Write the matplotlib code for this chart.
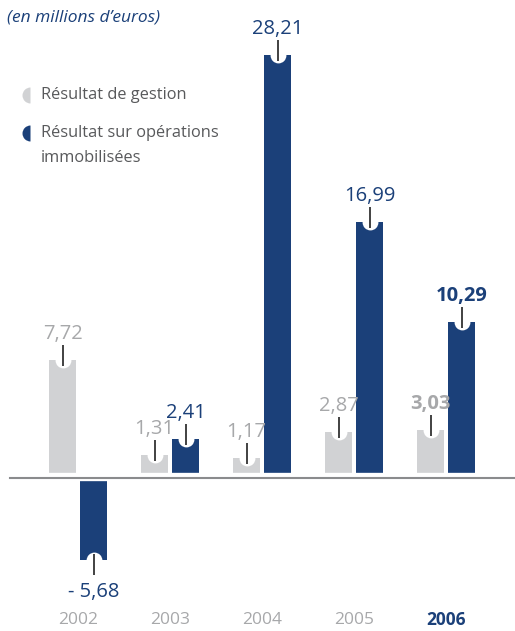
import matplotlib
matplotlib.use("Agg")
import matplotlib.pyplot as plt
import numpy as np

years = ["2002", "2003", "2004", "2005", "2006"]
gestion = [7.72, 1.31, 1.17, 2.87, 3.03]
immob = [-5.68, 2.41, 28.21, 16.99, 10.29]

gray = "#d1d2d4"
gray_txt = "#a7a8aa"
blue = "#1b4079"
dark = "#333333"

plt.rcParams["font.family"] = ["Open Sans", "DejaVu Sans"]

W, H = 515, 631
fig = plt.figure(figsize=(W / 100, H / 100), dpi=100)
ax = fig.add_axes([0, 0, 1, 1])
ax.axis("off")

# pixel geometry: baseline 156 px above the bottom, ~14.9 px per million
ppu = 14.9
y0 = -156 / ppu
y1 = (H - 156) / ppu
ax.set_ylim(y0, y1)
step = 92
ax.set_xlim(-78 / step, (W - 78) / step)
px = 1 / ppu  # one pixel in data units (y)

x = np.arange(len(years))
bw = 27 / step
off = 15.5 / step

ax.bar(x - off, gestion, bw, color=gray, zorder=2)
ax.bar(x + off, immob, bw, color=blue, zorder=2)

# baseline with a white margin around it
ax.axhline(-1.5 * px, color="white", lw=6, zorder=3)
ax.axhline(-2.5 * px, xmin=10 / W, color="#8a8b8d", lw=1.5, zorder=4)

def mark(xc, v, txt, color, bold):
    sign = 1 if v >= 0 else -1
    ax.scatter([xc], [v], s=130, color="white", zorder=5, linewidths=0)
    ax.plot([xc, xc], [v - sign * 6 * px, v + sign * 15 * px],
            color=dark, lw=1.3, zorder=6, solid_capstyle="butt")
    if sign > 0:
        ax.text(xc, v + 21 * px, txt, ha="center", va="baseline",
                color=color, fontsize=14.5,
                fontweight="bold" if bold else "normal", zorder=6)
    else:
        ax.text(xc, v - 22 * px, txt, ha="center", va="top",
                color=color, fontsize=14.5,
                fontweight="bold" if bold else "normal", zorder=6)

for i in range(len(years)):
    last = i == len(years) - 1
    mark(x[i] - off, gestion[i], f"{gestion[i]:.2f}".replace(".", ","),
         gray_txt, last)
    v = immob[i]
    lab = f"{v:.2f}".replace(".", ",")
    if v < 0:
        lab = "- " + lab[1:]
    mark(x[i] + off, v, lab, blue, last)
    ax.text(x[i], -145 * px, years[i], ha="center", va="center",
            fontsize=12.5, color=blue if last else gray_txt,
            fontweight="bold" if last else "normal")

# title and legend, placed in pixel coordinates
def fpos(px_x, px_y):
    return px_x / W, 1 - px_y / H

fig.text(*fpos(7, 18), "(en millions d\u2019euros)", style="italic",
         color=blue, fontsize=12.5, va="center")

for (mx, my), col in [((30, 95), gray), ((30, 133), blue)]:
    fig.lines.append(plt.Line2D([mx / W], [1 - my / H], marker="o",
                                markersize=11.5, fillstyle="left",
                                markerfacecolor=col, markerfacecoloralt="none",
                                markeredgewidth=0, transform=fig.transFigure))

leg_col = "#58595b"
fig.text(*fpos(41, 95), "R\u00e9sultat de gestion", color=leg_col,
         fontsize=11.8, va="center")
fig.text(*fpos(41, 133), "R\u00e9sultat sur op\u00e9rations", color=leg_col,
         fontsize=11.8, va="center")
fig.text(*fpos(41, 158), "immobilis\u00e9es", color=leg_col,
         fontsize=11.8, va="center")

fig.savefig("out.png", dpi=100)
